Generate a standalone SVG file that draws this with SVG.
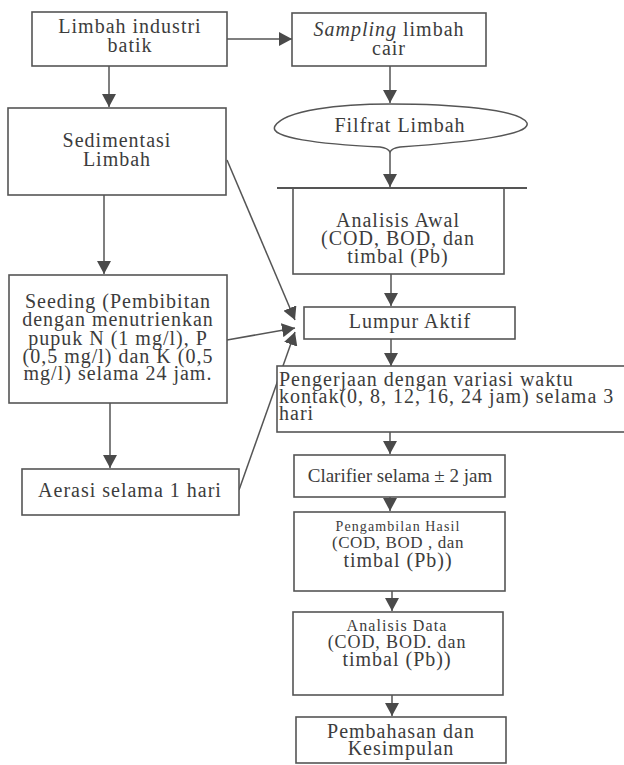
<svg xmlns="http://www.w3.org/2000/svg" width="624" height="765" viewBox="0 0 624 765">
<defs>
<marker id="ah" markerUnits="userSpaceOnUse" markerWidth="14" markerHeight="14" refX="13" refY="7" orient="auto">
<path d="M0,0 L13,7 L0,14 Z" fill="#4a4a4a"/>
</marker>
<style>
.box{fill:#fff;stroke:#555;stroke-width:1.6}
.ln{fill:none;stroke:#555;stroke-width:1.5}
.t{font-family:"Liberation Serif","Times New Roman",serif;font-size:20px;fill:#3c3c3c;text-anchor:middle;letter-spacing:1px}
.l{text-anchor:start}
.c{stroke:#555;stroke-width:1.5;fill:none;marker-end:url(#ah)}
</style>
</defs>
<rect width="624" height="765" fill="#fff"/>
<g id="connectors">
<line class="c" x1="227" y1="39" x2="292" y2="39"/>
<line class="c" x1="109" y1="66" x2="109" y2="107"/>
<line class="c" x1="390" y1="66" x2="390" y2="103"/>
<line class="c" x1="390" y1="151" x2="390" y2="187"/>
<line class="c" x1="104" y1="195" x2="104" y2="274"/>
<line class="c" x1="227" y1="160" x2="295" y2="320"/>
<line class="c" x1="227" y1="340" x2="295" y2="328"/>
<line class="c" x1="239" y1="490" x2="295" y2="332"/>
<line class="c" x1="391" y1="274" x2="391" y2="306"/>
<line class="c" x1="391" y1="339" x2="391" y2="366"/>
<line class="c" x1="110" y1="403" x2="110" y2="468"/>
<line class="c" x1="390" y1="432" x2="390" y2="454"/>
<line class="c" x1="390" y1="497" x2="390" y2="511"/>
<line class="c" x1="392" y1="591" x2="392" y2="611"/>
<line class="c" x1="392" y1="695" x2="392" y2="716"/>
</g>
<g id="n1">
<rect class="box" x="32" y="12" width="195" height="54"/>
<text class="t" x="130" y="33">Limbah industri</text>
<text class="t" x="130" y="52">batik</text>
</g>
<g id="n2">
<rect class="box" x="292" y="13" width="194" height="53"/>
<text class="t" x="389" y="36"><tspan font-style="italic">Sampling</tspan> limbah</text>
<text class="t" x="389" y="55">cair</text>
</g>
<g id="n3">
<rect class="box" x="8" y="108" width="218" height="87"/>
<text class="t" x="117" y="147">Sedimentasi</text>
<text class="t" x="117" y="166">Limbah</text>
</g>
<g id="n4">
<path class="ln" style="fill:#fff" d="M275,126 C285,110 340,104 390,104 C450,104 520,109 527,123 C531,135 470,142 400,147 Q392,148 390,152 Q388,148 380,147 C320,144 268,138 275,126 Z"/>
<text class="t" x="400" y="132">Filfrat Limbah</text>
</g>
<g id="n5">
<rect class="box" x="293" y="188" width="211" height="86"/>
<line class="ln" x1="277" y1="188" x2="527" y2="188" style="stroke-width:2"/>
<text class="t" x="398" y="227">Analisis Awal</text>
<text class="t" x="398" y="245">(COD, BOD, dan</text>
<text class="t" x="398" y="263">timbal (Pb)</text>
</g>
<g id="n6">
<rect class="box" x="304" y="307" width="211" height="32"/>
<text class="t" x="410" y="328">Lumpur Aktif</text>
</g>
<g id="n7">
<rect class="box" x="9" y="275" width="218" height="128"/>
<text class="t" x="118" y="308">Seeding (Pembibitan</text>
<text class="t" x="118" y="326">dengan menutrienkan</text>
<text class="t" x="118" y="345">pupuk N (1 mg/l), P</text>
<text class="t" x="118" y="363">(0,5 mg/l) dan K (0,5</text>
<text class="t" x="118" y="380">mg/l) selama 24 jam.</text>
</g>
<g id="n8">
<rect class="box" x="22" y="469" width="217" height="46"/>
<text class="t" x="130" y="497">Aerasi selama 1 hari</text>
</g>
<g id="n9">
<rect class="box" x="277" y="366" width="360" height="66"/>
<text class="t l" x="279" y="386">Pengerjaan dengan variasi waktu</text>
<text class="t l" x="279" y="403">kontak(0, 8, 12, 16, 24 jam) selama 3</text>
<text class="t l" x="279" y="420">hari</text>
</g>
<g id="n10">
<rect class="box" x="294" y="455" width="211" height="42"/>
<text class="t" x="400" y="482" style="font-size:19px;letter-spacing:0">Clarifier selama ± 2 jam</text>
</g>
<g id="n11">
<rect class="box" x="294" y="512" width="211" height="79"/>
<text class="t" x="398" y="531" style="font-size:14px;letter-spacing:1.1px">Pengambilan Hasil</text>
<text class="t" x="398" y="548" style="font-size:17px;letter-spacing:0.6px">(COD, BOD , dan</text>
<text class="t" x="398" y="567">timbal (Pb))</text>
</g>
<g id="n12">
<rect class="box" x="293" y="612" width="210" height="83"/>
<text class="t" x="397" y="631" style="font-size:16px;letter-spacing:1.1px">Analisis Data</text>
<text class="t" x="397" y="648" style="font-size:18px;letter-spacing:0.9px">(COD, BOD. dan</text>
<text class="t" x="397" y="666">timbal (Pb))</text>
</g>
<g id="n13">
<rect class="box" x="296" y="717" width="210" height="46"/>
<text class="t" x="401" y="738">Pembahasan dan</text>
<text class="t" x="401" y="755">Kesimpulan</text>
</g>
</svg>
